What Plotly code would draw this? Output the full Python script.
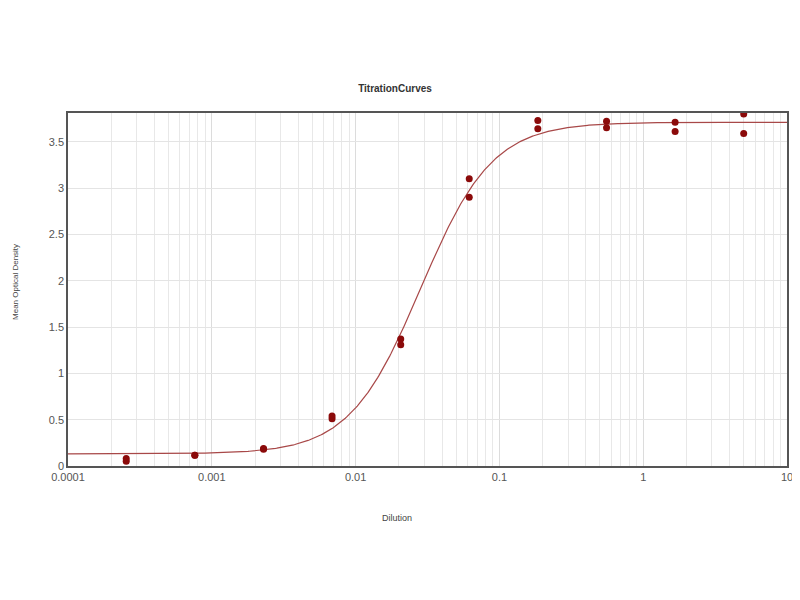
import numpy as np
import plotly.graph_objects as go

# Dilution series (3-fold) and measured optical densities (duplicates)
dilution = [0.000254, 0.000762, 0.00229, 0.00686, 0.0206, 0.0617, 0.185, 0.556, 1.667, 5.0]
od_rep1 = [0.08, 0.115, 0.19, 0.51, 1.37, 3.10, 3.73, 3.72, 3.71, 3.80]
od_rep2 = [0.05, 0.115, 0.18, 0.54, 1.31, 2.90, 3.64, 3.65, 3.61, 3.59]

# 4-parameter logistic fit parameters (bottom, top, EC50, hill slope)
fit_bottom = 0.13
fit_top = 3.71
fit_ec50 = 0.0284
fit_hill = 1.75

x_ticks = [0.0001, 0.001, 0.01, 0.1, 1, 10]
x_ticktext = ["0.0001", "0.001", "0.01", "0.1", "1", "10"]
y_ticks = [0, 0.5, 1, 1.5, 2, 2.5, 3, 3.5]
y_ticktext = ["0", "0.5", "1", "1.5", "2", "2.5", "3", "3.5"]

xs = np.logspace(-4, 1, 600)
ys = fit_bottom + (fit_top - fit_bottom) / (1 + (fit_ec50 / xs) ** fit_hill)

fig = go.Figure()
fig.add_trace(go.Scatter(x=xs, y=ys, mode="lines",
                         line=dict(color="#a84848", width=1.2), hoverinfo="skip"))
fig.add_trace(go.Scatter(x=dilution + dilution, y=od_rep1 + od_rep2, mode="markers",
                         marker=dict(color="#8b0a0a", size=7)))

W, H = 800, 592
fig.update_layout(
    width=W, height=H,
    paper_bgcolor="white", plot_bgcolor="white",
    showlegend=False,
    margin=dict(l=60, r=21, t=105, b=134, autoexpand=False),
    title=dict(text="<b>TitrationCurves</b>", x=387 / W, xanchor="center",
               yref="container", y=1 - 80 / H, yanchor="middle",
               font=dict(family="Liberation Sans, Arial", size=10, color="#333")),
    font=dict(family="Liberation Sans, Arial", color="#444"),
    annotations=[
        dict(text="Dilution", xref="paper", yref="paper", x=0.457, y=-0.148,
             xanchor="center", yanchor="middle", showarrow=False,
             font=dict(size=9, color="#444")),
        dict(text="Mean Optical Density", xref="paper", yref="paper", x=-0.073, y=0.52,
             xanchor="center", yanchor="middle", showarrow=False, textangle=-90,
             font=dict(size=8, color="#444")),
    ],
)
fig.update_xaxes(
    type="log", range=[-4, 1], automargin=False,
    tickvals=x_ticks, ticktext=x_ticktext,
    tickfont=dict(size=11, color="#555"),
    showgrid=True, gridcolor="#dcdcdc", gridwidth=1,
    minor=dict(dtick="D1", showgrid=True, gridcolor="#e8e8e8", ticks=""),
    showline=True, linecolor="#555", linewidth=1.5, mirror=True,
    ticks="", zeroline=False,
)
fig.update_yaxes(
    range=[0, 3.81], automargin=False,
    tickvals=y_ticks, ticktext=y_ticktext,
    tickfont=dict(size=11, color="#555"),
    showgrid=True, gridcolor="#e4e4e4", gridwidth=1,
    showline=True, linecolor="#555", linewidth=1.5, mirror=True,
    ticks="", zeroline=False,
)

fig.write_html("out.html")
